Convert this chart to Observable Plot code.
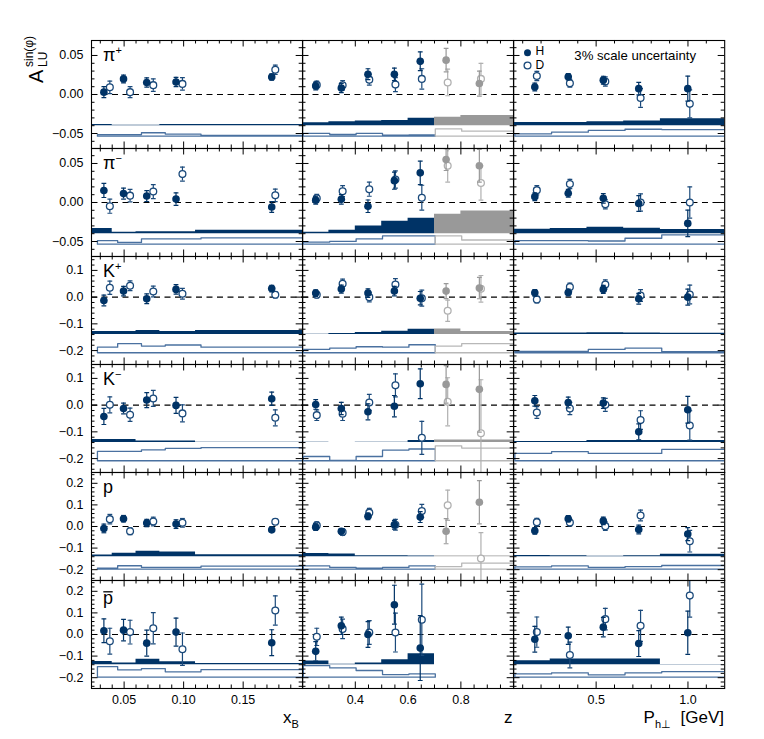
<!DOCTYPE html>
<html><head><meta charset="utf-8">
<script src="https://cdn.jsdelivr.net/npm/d3@7"></script>
<script src="https://cdn.jsdelivr.net/npm/@observablehq/plot@0.6"></script>
<style>
html,body{margin:0;padding:0;background:#fff;}
#wrap{position:relative;width:764px;height:739px;overflow:hidden;background:#fff;font-family:"Liberation Sans",Arial,Helvetica,sans-serif;}
</style></head><body><div id="wrap"></div>
<script>
// ---------- kinematic bin means (x positions) ----------
const xB_H = [0.033, 0.0495, 0.069, 0.0936, 0.174];
const xB_D = [0.038, 0.055, 0.0745, 0.099, 0.177];
const z_H  = [0.25, 0.347, 0.448, 0.548, 0.646, 0.744, 0.87];
const z_D  = [0.254, 0.352, 0.453, 0.552, 0.652, 0.75, 0.876];
const pt_H = [0.166, 0.348, 0.539, 0.732, 0.999];
const pt_D = [0.177, 0.357, 0.55, 0.742, 1.01];
// ---------- bin edges (systematic bands) ----------
const xB_edges = [0.023, 0.04, 0.06, 0.08, 0.11, 0.6];
const z_edges  = [0.2, 0.3, 0.4, 0.5, 0.6, 0.7, 0.8, 1.0];
const pt_edges = [0.05, 0.25, 0.45, 0.65, 0.85, 1.2];

// ---------- asymmetries [value, stat. error] ----------
// pi+
const pip_xB_H = [[0.003,0.007],[0.020,0.005],[0.0154,0.006],[0.016,0.006],[0.0224,0.004]];
const pip_xB_D = [[0.0092,0.008],[0.003,0.007],[0.012,0.008],[0.0136,0.008],[0.0316,0.006]];
const pip_z_H  = [[0.011,0.005],[0.0083,0.006],[0.026,0.007],[0.0259,0.008],[0.0425,0.012],[0.044,0.015],[0.014,0.016]];
const pip_z_D  = [[0.0123,0.005],[0.0118,0.006],[0.019,0.007],[0.0127,0.009],[0.020,0.013],[0.0154,0.017],[0.020,0.02]];
const pip_pt_H = [[0.0096,0.005],[0.0228,0.004],[0.0184,0.005],[0.0075,0.008],[0.0075,0.016]];
const pip_pt_D = [[0.0237,0.006],[0.0145,0.005],[0.0167,0.006],[-0.0044,0.012],[-0.012,0.018]];
// pi-
const pim_xB_H = [[0.0154,0.009],[0.0114,0.007],[0.0083,0.007],[0.0044,0.008],[-0.0057,0.007]];
const pim_xB_D = [[-0.0048,0.009],[0.0088,0.008],[0.014,0.009],[0.0364,0.009],[0.0092,0.008]];
const pim_z_H  = [[0.003,0.005],[0.004,0.006],[-0.0048,0.008],[0.028,0.011],[0.038,0.015],[0.055,0.014],[0.047,0.021]];
const pim_z_D  = [[0.0053,0.005],[0.0145,0.007],[0.017,0.009],[0.0294,0.011],[0.0061,0.016],[0.047,0.021],[0.025,0.022]];
const pim_pt_H = [[0.0075,0.005],[0.0118,0.005],[0.0053,0.006],[-0.0013,0.01],[-0.0268,0.017]];
const pim_pt_D = [[0.0158,0.006],[0.0237,0.006],[-0.0022,0.006],[0.0,0.011],[0.0,0.02]];
// K+
const kp_xB_H = [[-0.0125,0.02],[0.0225,0.018],[-0.006,0.018],[0.029,0.018],[0.032,0.012]];
const kp_xB_D = [[0.035,0.025],[0.0425,0.018],[0.021,0.02],[0.0125,0.02],[0.009,0.012]];
const kp_z_H  = [[0.015,0.012],[0.03,0.015],[0.015,0.016],[0.0225,0.018],[-0.004,0.025],[0.0225,0.028],[0.034,0.04]];
const kp_z_D  = [[0.009,0.012],[0.05,0.017],[0.0,0.018],[0.0475,0.022],[-0.004,0.03],[-0.051,0.04],[0.031,0.05]];
const kp_pt_H = [[0.016,0.012],[0.0175,0.013],[0.029,0.015],[-0.006,0.02],[0.0,0.03]];
const kp_pt_D = [[-0.009,0.013],[0.0375,0.015],[0.0475,0.017],[0.006,0.022],[0.01,0.035]];
// K-
const km_xB_H = [[-0.0425,0.03],[-0.0125,0.02],[0.019,0.028],[-0.001,0.03],[0.024,0.025]];
const km_xB_D = [[0.001,0.03],[-0.036,0.025],[0.025,0.03],[-0.031,0.032],[-0.0475,0.03]];
const km_z_H  = [[0.0025,0.018],[-0.0125,0.023],[-0.025,0.03],[-0.004,0.04],[0.08,0.056],[0.0775,0.07],[0.059,0.16]];
const km_z_D  = [[-0.0375,0.02],[-0.0325,0.025],[0.01,0.03],[0.074,0.043],[-0.1225,0.062],[0.0125,0.09],[-0.105,0.2]];
const km_pt_H = [[0.016,0.02],[0.01,0.02],[0.0075,0.02],[-0.1,0.03],[-0.0175,0.05]];
const km_pt_D = [[-0.0275,0.022],[-0.0125,0.023],[0.001,0.024],[-0.056,0.035],[-0.076,0.055]];
// p
const p_xB_H = [[-0.009,0.02],[0.036,0.015],[0.016,0.017],[0.011,0.02],[-0.0156,0.01]];
const p_xB_D = [[0.034,0.022],[-0.022,0.016],[0.023,0.02],[0.017,0.02],[0.022,0.013]];
const p_z_H  = [[-0.003,0.015],[-0.022,0.012],[0.047,0.015],[0.008,0.02],[0.0436,0.025],[-0.022,0.058],[0.112,0.1]];
const p_z_D  = [[0.005,0.017],[-0.026,0.015],[0.064,0.02],[0.008,0.025],[0.072,0.03],[0.098,0.07],[-0.148,0.12]];
const p_pt_H = [[-0.02,0.015],[0.036,0.015],[0.026,0.017],[-0.014,0.02],[-0.035,0.03]];
const p_pt_D = [[0.02,0.018],[0.0187,0.016],[0.0015,0.02],[0.051,0.025],[-0.068,0.05]];
// anti-p
const pb_xB_H = [[0.017,0.055],[0.02,0.05],[-0.04,0.06],[0.011,0.065],[-0.038,0.06]];
const pb_xB_D = [[-0.031,0.06],[0.011,0.055],[0.029,0.072],[-0.068,0.075],[0.111,0.068]];
const pb_z_H  = [[-0.078,0.045],[0.04,0.04],[0.0,0.06],[0.138,0.09],[-0.063,0.15]];
const pb_z_D  = [[-0.011,0.04],[0.026,0.045],[0.009,0.055],[0.009,0.09],[0.068,0.165]];
const pb_pt_H = [[-0.022,0.06],[-0.006,0.04],[0.034,0.045],[-0.042,0.06],[0.008,0.1]];
const pb_pt_D = [[0.011,0.07],[-0.095,0.06],[0.071,0.05],[0.04,0.072],[0.18,0.1]];

// ---------- systematic uncertainties (band heights) ----------
const pip_xB_sysH = [0.0015,0.0005,0.0005,0.0015,0.0015];
const pip_xB_sysD = [0.002,0.002,0.0043,0.0026,0.001];
const pip_z_sysH  = [0.0038,0.005,0.006,0.0068,0.0094,0.0107,0.013];
const pip_z_sysD  = [0.0034,0.0021,0.0034,0.0013,0.0017,0.0094,0.0064];
const pip_pt_sysH = [0.0042,0.0042,0.005,0.006,0.0088];
const pip_pt_sysD = [0.003,0.005,0.0073,0.0088,0.0084];
const pim_xB_sysH = [0.0066,0.0018,0.0026,0.0026,0.0044];
const pim_xB_sysD = [0.0044,0.0022,0.0066,0.0066,0.0079];
const pim_z_sysH  = [0.0018,0.0044,0.01,0.0158,0.0197,0.025,0.029];
const pim_z_sysD  = [0.0026,0.0035,0.0066,0.0105,0.0105,0.0105,0.0053];
const pim_pt_sysH = [0.0057,0.0066,0.0083,0.007,0.0053];
const pim_pt_sysD = [0.0044,0.0044,0.004,0.0075,0.0118];
const kp_xB_sysH = [0.011,0.011,0.015,0.011,0.015];
const kp_xB_sysD = [0.021,0.034,0.025,0.029,0.021];
const kp_z_sysH  = [0.001,0.004,0.0075,0.0125,0.02,0.021,0.011];
const kp_z_sysD  = [0.0125,0.0175,0.0225,0.021,0.03,0.025,0.034];
const kp_pt_sysH = [0.006,0.006,0.007,0.006,0.005];
const kp_pt_sysD = [0.005,0.005,0.0125,0.0175,0.004];
const km_xB_sysH = [0.011,0.011,0.006,0.006,0.0007];
const km_xB_sysD = [0.035,0.035,0.041,0.046,0.049];
const km_z_sysH  = [0.001,0.0005,0.001,0.001,0.0075,0.01,0.01];
const km_z_sysD  = [0.016,0.001,0.016,0.04,0.044,0.056,0.0475];
const km_pt_sysH = [0.004,0.004,0.0075,0.0075,0.0075];
const km_pt_sysD = [0.0275,0.034,0.0275,0.0275,0.0425];
const p_xB_sysH = [0.008,0.016,0.025,0.022,0.0094];
const p_xB_sysD = [0.005,0.016,0.008,0.008,0.014];
const p_z_sysH  = [0.015,0.0125,0.005,0.005,0.003,0.003,0.003];
const p_z_sysD  = [0.015,0.008,0.005,0.008,0.015,0.012,0.028];
const p_pt_sysH = [0.006,0.005,0.002,0.005,0.011];
const p_pt_sysD = [0.011,0.015,0.008,0.012,0.017];
const pb_xB_sysH = [0.015,0.008,0.025,0.014,0.006];
const pb_xB_sysD = [0.049,0.034,0.04,0.025,0.035];
const pb_z_sysH  = [0.017,0.002,0.008,0.023,0.051];
const pb_z_sysD  = [0.054,0.043,0.031,0.012,0.015];
const pb_pt_sysH = [0.018,0.026,0.026,0.026,0.001];
const pb_pt_sysD = [0.015,0.02,0.011,0.02,0.026];

// band baselines per row (H, D)
const baseH = [-0.04,-0.04,-0.14,-0.14,-0.14,-0.14];
const baseD = [-0.054,-0.054,-0.21,-0.21,-0.2,-0.2];

// axis tick values
const yMajor = [[-0.05,0,0.05],[-0.05,0,0.05],[-0.2,-0.1,0,0.1],[-0.2,-0.1,0,0.1],[-0.2,-0.1,0,0.1,0.2],[-0.2,-0.1,0,0.1,0.2]];
const yFormat = [".2f",".2f",".1f",".1f",".1f",".1f"];
const xMajor = [[0.05,0.10,0.15],[0.4,0.6,0.8],[0.5,1.0]];
const xFormat = [".2f",".1f",".1f"];
const legendLabels = ["H", "D"];
const scaleNote = "3% scale uncertainty";

// ---------- assemble ----------
const panelData = [
  [[pip_xB_H,pip_xB_D,pip_xB_sysH,pip_xB_sysD],[pip_z_H,pip_z_D,pip_z_sysH,pip_z_sysD],[pip_pt_H,pip_pt_D,pip_pt_sysH,pip_pt_sysD]],
  [[pim_xB_H,pim_xB_D,pim_xB_sysH,pim_xB_sysD],[pim_z_H,pim_z_D,pim_z_sysH,pim_z_sysD],[pim_pt_H,pim_pt_D,pim_pt_sysH,pim_pt_sysD]],
  [[kp_xB_H,kp_xB_D,kp_xB_sysH,kp_xB_sysD],[kp_z_H,kp_z_D,kp_z_sysH,kp_z_sysD],[kp_pt_H,kp_pt_D,kp_pt_sysH,kp_pt_sysD]],
  [[km_xB_H,km_xB_D,km_xB_sysH,km_xB_sysD],[km_z_H,km_z_D,km_z_sysH,km_z_sysD],[km_pt_H,km_pt_D,km_pt_sysH,km_pt_sysD]],
  [[p_xB_H,p_xB_D,p_xB_sysH,p_xB_sysD],[p_z_H,p_z_D,p_z_sysH,p_z_sysD],[p_pt_H,p_pt_D,p_pt_sysH,p_pt_sysD]],
  [[pb_xB_H,pb_xB_D,pb_xB_sysH,pb_xB_sysD],[pb_z_H,pb_z_D,pb_z_sysH,pb_z_sysD],[pb_pt_H,pb_pt_D,pb_pt_sysH,pb_pt_sysD]]
];
const xHpos = [xB_H, z_H, pt_H];
const xDpos = [xB_D, z_D, pt_D];
const edges = [xB_edges, z_edges, pt_edges];

// ---------- layout & style ----------
const NAVY = "#003366", DCOL = "#1b4a7b", DBAND = "#4a71a0", GRAY = "#999999", LGRAY = "#b0b0b0", LBAND = "#b8b8b8";
const FONT = '"Liberation Sans", Arial, Helvetica, sans-serif';
const PW = 211.2, PH = 108;
const colLeft = [90.6, 301.7, 512.8];
const rowTop = r => 40 + 108 * r;
const xDomain = [[0.0226, 0.2], [0.2, 1.0], [0.05, 1.2]];
const yDomain = [[-0.0692,0.0692],[-0.0692,0.0692],[-0.252,0.152],[-0.252,0.152],[-0.25,0.25],[-0.25,0.25]];
const shiftD = [0.005, 0.005, 0.01];
const grayFrom = [Infinity, 5, Infinity];
const yMinorStep = [0.01,0.01,0.02,0.02,0.02,0.02];
const xMinorStep = [0.01, 0.05, 0.1];

const cap = {draw(ctx, size) { const w = Math.sqrt(size / Math.PI); ctx.moveTo(-w, 0); ctx.lineTo(w, 0); }};

function range(dom, step) {
  const out = [];
  const i0 = Math.ceil(dom[0] / step - 1e-9), i1 = Math.floor(dom[1] / step + 1e-9);
  for (let i = i0; i <= i1; i++) out.push(+(i * step).toFixed(6));
  return out.filter(v => v > dom[0] + 1e-9 && v < dom[1] - 1e-9);
}
function step(ed, vals, base, shift, from, to) {
  const out = [];
  for (let i = from; i < to; i++) out.push({x: ed[i] + shift, y1: base, y2: base + vals[i]});
  out.push({x: ed[to] + shift, y1: base, y2: base + vals[to - 1]});
  return out;
}

const wrap = document.getElementById("wrap");

function makePanel(r, c) {
  const [Hv, Dv, sH, sD] = panelData[r][c];
  const gf = grayFrom[c];
  const ml = c === 0 ? 70 : 2, mr = 2, mt = 2, mb = r === 5 ? 30 : 2;
  const hPts = Hv.map(([v, e], i) => ({x: xHpos[c][i], y: v, lo: v - e, hi: v + e, col: i >= gf ? GRAY : NAVY}));
  const dPts = Dv.map(([v, e], i) => ({x: xDpos[c][i], y: v, lo: v - e, hi: v + e, col: i >= gf ? LGRAY : DCOL}));
  const nH = sH.length, nD = sD.length;
  const hMain = step(edges[c], sH, baseH[r], 0, 0, Math.min(nH, gf));
  const hGray = nH > gf ? step(edges[c], sH, baseH[r], 0, gf, nH) : null;
  const dMain = step(edges[c], sD, baseD[r], shiftD[c], 0, Math.min(nD, gf));
  const dGray = nD > gf ? step(edges[c], sD, baseD[r], shiftD[c], gf, nD) : null;
  const yMaj = yMajor[r], yMin = range(yDomain[r], yMinorStep[r]).filter(v => !yMaj.some(m => Math.abs(m - v) < 1e-9));
  const xMaj = xMajor[c], xMin = range(xDomain[c], xMinorStep[c]).filter(v => !xMaj.some(m => Math.abs(m - v) < 1e-9));
  const area = {x: "x", y1: "y1", y2: "y2", curve: "step-after", clip: true};
  const marks = [
    Plot.areaY(hMain, {...area, fill: NAVY}),
    hGray ? Plot.areaY(hGray, {...area, fill: GRAY}) : null,
    Plot.areaY(dMain, {...area, fill: "none", stroke: DBAND, strokeWidth: 1.3}),
    dGray ? Plot.areaY(dGray, {...area, fill: "none", stroke: LBAND, strokeWidth: 1.3}) : null,
    Plot.tickY(yMin, {y: d => d, insetRight: PW - 3.5, stroke: "#000"}),
    Plot.tickY(yMin, {y: d => d, insetLeft: PW - 3.5, stroke: "#000"}),
    Plot.tickY(yMaj, {y: d => d, insetRight: PW - 6.5, stroke: "#000"}),
    Plot.tickY(yMaj, {y: d => d, insetLeft: PW - 6.5, stroke: "#000"}),
    Plot.tickX(xMin, {x: d => d, insetTop: PH - 3.5, stroke: "#000"}),
    Plot.tickX(xMin, {x: d => d, insetBottom: PH - 3.5, stroke: "#000"}),
    Plot.tickX(xMaj, {x: d => d, insetTop: PH - 6.5, stroke: "#000"}),
    Plot.tickX(xMaj, {x: d => d, insetBottom: PH - 6.5, stroke: "#000"}),
    Plot.ruleY([0], {stroke: "#000", strokeWidth: 1.2, strokeDasharray: "6,4.5"}),
    // D (deuterium)
    Plot.ruleX(dPts, {x: "x", y1: "lo", y2: "hi", stroke: d => d.col, strokeWidth: 1.2, clip: true}),
    Plot.dot(dPts, {x: "x", y: "lo", symbol: cap, r: 2.4, stroke: d => d.col, fill: "none", strokeWidth: 1.2, clip: true}),
    Plot.dot(dPts, {x: "x", y: "hi", symbol: cap, r: 2.4, stroke: d => d.col, fill: "none", strokeWidth: 1.2, clip: true}),
    Plot.dot(dPts, {x: "x", y: "y", r: 3.4, fill: "white", stroke: d => d.col, strokeWidth: 1.3, clip: true}),
    // H (hydrogen)
    Plot.ruleX(hPts, {x: "x", y1: "lo", y2: "hi", stroke: d => d.col, strokeWidth: 1.2, clip: true}),
    Plot.dot(hPts, {x: "x", y: "lo", symbol: cap, r: 2.4, stroke: d => d.col, fill: "none", strokeWidth: 1.2, clip: true}),
    Plot.dot(hPts, {x: "x", y: "hi", symbol: cap, r: 2.4, stroke: d => d.col, fill: "none", strokeWidth: 1.2, clip: true}),
    Plot.dot(hPts, {x: "x", y: "y", r: 3.8, fill: d => d.col, stroke: "none", clip: true}),
    Plot.frame({stroke: "#000", strokeWidth: 1.1})
  ];
  if (c === 0) marks.push(Plot.axisY(yMaj, {anchor: "left", tickSize: 0, tickPadding: 8, tickFormat: d3.format(yFormat[r]), label: null, fontSize: 12.5}));
  if (r === 5) marks.push(Plot.axisX(xMaj, {anchor: "bottom", tickSize: 0, tickPadding: 7, tickFormat: d3.format(xFormat[c]), label: null, fontSize: 12.5}));
  if (r === 0 && c === 2) {
    marks.push(
      Plot.dot([0], {frameAnchor: "top-left", dx: 14, dy: 12.3, r: 3.5, fill: NAVY}),
      Plot.dot([0], {frameAnchor: "top-left", dx: 14, dy: 25, r: 3.4, fill: "white", stroke: DCOL, strokeWidth: 1.3})
    );
  }
  const svg = Plot.plot({
    width: ml + PW + mr, height: mt + PH + mb,
    marginLeft: ml, marginRight: mr, marginTop: mt, marginBottom: mb,
    x: {domain: xDomain[c], ...(r === 5 ? {} : {axis: null})},
    y: {domain: yDomain[r], ...(c === 0 ? {} : {axis: null})},
    style: {background: "transparent", fontFamily: FONT, fontSize: "12.5px", color: "#000", overflow: "visible"},
    marks: marks.filter(Boolean)
  });
  svg.style.position = "absolute";
  svg.style.left = (colLeft[c] - ml) + "px";
  svg.style.top = (rowTop(r) - mt) + "px";
  svg.style.maxWidth = "none";
  wrap.appendChild(svg);
}

for (let r = 0; r < 6; r++) for (let c = 0; c < 3; c++) makePanel(r, c);

// ---------- text overlay: particle labels, legend text, axis titles ----------
const labels = [["π","+"],["π","−"],["K","+"],["K","−"],["p",""],["p",""]];
const NS = "http://www.w3.org/2000/svg";
const ov = document.createElementNS(NS, "svg");
ov.setAttribute("width", 764); ov.setAttribute("height", 739);
ov.style.position = "absolute"; ov.style.left = "0"; ov.style.top = "0";
ov.setAttribute("font-family", FONT);
let html = "";
labels.forEach(([base, sup], r) => {
  const y = rowTop(r) + (r === 5 ? 24 : 21);
  html += `<text x="103" y="${y}" font-size="18">${base}${sup ? `<tspan font-size="11" dy="-7">${sup}</tspan>` : ""}</text>`;
});
html += `<line x1="103.3" x2="112.7" y1="${rowTop(5) + 11.8}" y2="${rowTop(5) + 11.8}" stroke="#000" stroke-width="1.3"/>`;
html += `<text x="535.5" y="55" font-size="12">${legendLabels[0]}</text>`;
html += `<text x="535.5" y="69" font-size="12">${legendLabels[1]}</text>`;
html += `<text x="574.3" y="59.5" font-size="13.2">${scaleNote}</text>`;
html += `<g transform="translate(43,83) rotate(-90)">
  <text x="0" y="0" font-size="20">A</text>
  <text x="16" y="4" font-size="12">LU</text>
  <text x="16" y="-10" font-size="12">sin(φ)</text></g>`;
html += `<text x="283" y="723" font-size="17">x<tspan font-size="11" dy="5">B</tspan></text>`;
html += `<text x="504" y="723" font-size="17">z</text>`;
html += `<text x="724" y="723" font-size="17" text-anchor="end">P<tspan font-size="11" dy="5">h⊥</tspan><tspan dy="-5">&#160;&#160;[GeV]</tspan></text>`;
ov.innerHTML = html;
wrap.appendChild(ov);
</script></body></html>
